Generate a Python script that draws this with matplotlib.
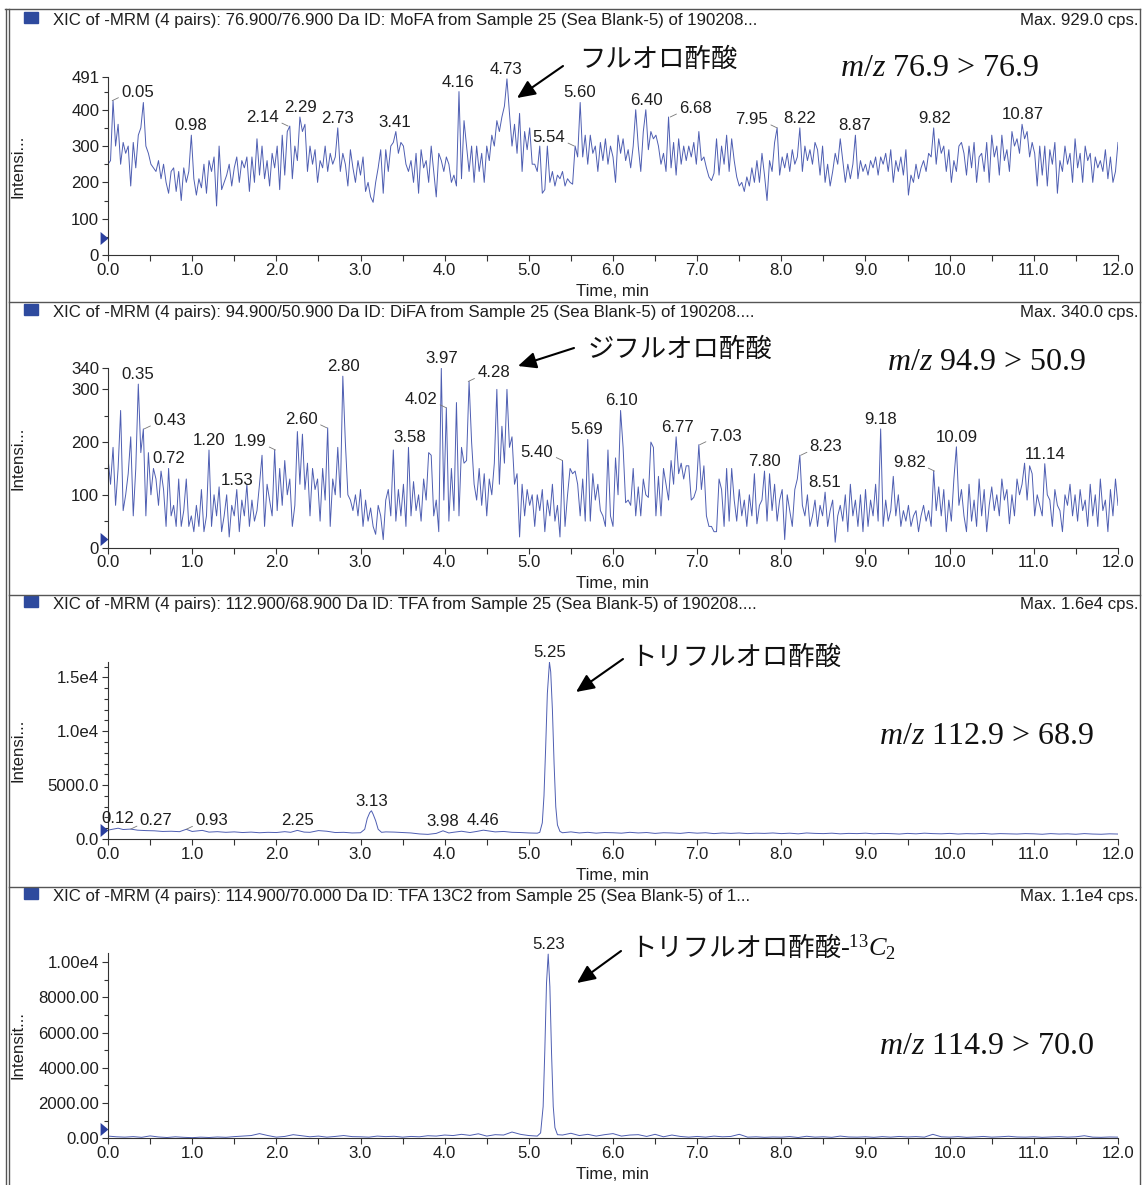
import numpy as np
import matplotlib
matplotlib.use("Agg")
import matplotlib.pyplot as plt
import matplotlib.transforms as mtransforms
from matplotlib.lines import Line2D
from matplotlib.patches import Rectangle, FancyArrowPatch
from matplotlib.ticker import MultipleLocator

# ---------------- data ----------------
# MoFA trace (m/z 76.9 > 76.9), sampled every 0.03 min from 0 to 12 min
mofa_intensity = [
    250, 260, 425, 300, 360, 250, 310, 280, 300, 190,
    310, 240, 330, 350, 420, 300, 280, 250, 240, 230,
    260, 210, 250, 200, 170, 230, 240, 175, 230, 150,
    240, 200, 230, 330, 210, 165, 210, 185, 250, 170,
    260, 230, 270, 135, 300, 180, 200, 220, 250, 190,
    240, 270, 200, 260, 240, 270, 175, 270, 200, 320,
    220, 300, 210, 260, 190, 280, 240, 300, 180, 330,
    220, 340, 355, 210, 300, 260, 380, 340, 360, 230,
    300, 250, 290, 200, 260, 240, 300, 230, 280, 250,
    270, 350, 230, 280, 250, 190, 290, 240, 200, 260,
    220, 270, 175, 200, 160, 145, 200, 240, 290, 170,
    290, 230, 300, 310, 340, 280, 310, 300, 250, 230,
    260, 200, 280, 170, 290, 240, 260, 200, 300, 230,
    160, 280, 260, 230, 270, 250, 200, 220, 190, 450,
    210, 370, 300, 230, 300, 200, 300, 230, 280, 200,
    300, 260, 330, 300, 370, 340, 380, 410, 485, 390,
    300, 360, 280, 390, 230, 340, 290, 350, 250, 250,
    230, 300, 170, 180, 300, 200, 230, 190, 220, 210,
    230, 190, 210, 200, 195, 300, 270, 420, 270, 330,
    250, 330, 280, 300, 230, 310, 260, 320, 250, 300,
    270, 200, 330, 280, 320, 260, 290, 240, 300, 400,
    300, 230, 340, 400, 290, 340, 320, 330, 300, 250,
    280, 230, 380, 240, 310, 220, 320, 250, 300, 260,
    300, 270, 310, 250, 340, 260, 270, 240, 215, 205,
    225, 320, 220, 300, 250, 330, 230, 320, 260, 215,
    190, 200, 175, 215, 190, 240, 200, 260, 200, 280,
    220, 150, 260, 230, 310, 350, 220, 270, 240, 280,
    230, 290, 250, 270, 350, 230, 300, 260, 290, 250,
    310, 290, 220, 300, 200, 250, 190, 230, 280, 250,
    320, 260, 200, 250, 210, 250, 330, 210, 260, 230,
    250, 220, 260, 240, 270, 220, 270, 250, 280, 230,
    290, 200, 260, 230, 270, 220, 290, 165, 220, 200,
    250, 210, 240, 260, 230, 280, 270, 350, 250, 320,
    280, 300, 230, 290, 200, 260, 230, 300, 310, 280,
    220, 300, 240, 310, 200, 270, 280, 230, 310, 200,
    330, 270, 300, 220, 330, 260, 290, 230, 340, 300,
    320, 280, 360, 320, 340, 270, 310, 280, 190, 300,
    220, 300, 190, 290, 250, 310, 170, 260, 230, 300,
    250, 280, 200, 320, 240, 280, 200, 300, 260, 280,
    200, 270, 240, 260, 230, 290, 210, 270, 200, 230,
    310,
]

# DiFA trace (m/z 94.9 > 50.9), sampled every 0.03 min
difa_intensity = [
    170, 120, 190, 80, 150, 260, 70, 100, 140, 210,
    60, 150, 310, 180, 225, 60, 180, 100, 150, 130,
    80, 145, 110, 40, 150, 60, 80, 40, 130, 40,
    70, 130, 40, 60, 30, 80, 40, 110, 30, 60,
    185, 40, 100, 60, 115, 30, 60, 100, 20, 80,
    60, 110, 30, 90, 60, 120, 40, 90, 50, 70,
    120, 175, 40, 120, 90, 60, 185, 70, 150, 80,
    165, 100, 130, 40, 80, 220, 120, 215, 110, 160,
    60, 150, 110, 130, 50, 150, 90, 227, 40, 130,
    100, 190, 95, 325, 200, 100, 90, 70, 100, 60,
    110, 40, 90, 50, 75, 40, 25, 80, 60, 15,
    90, 110, 60, 185, 50, 110, 60, 120, 40, 190,
    60, 125, 70, 100, 50, 130, 90, 180, 175, 60,
    90, 30, 340, 90, 265, 50, 150, 70, 275, 60,
    190, 160, 165, 315, 200, 120, 90, 150, 80, 140,
    60, 130, 100, 160, 300, 120, 230, 160, 300, 190,
    210, 120, 140, 20, 120, 60, 110, 80, 100, 40,
    100, 70, 110, 30, 90, 60, 120, 50, 80, 20,
    165, 40, 100, 150, 140, 145, 120, 60, 130, 50,
    205, 50, 140, 90, 120, 70, 60, 40, 185, 60,
    40, 170, 100, 260, 190, 85, 90, 80, 150, 60,
    115, 60, 130, 100, 95, 200, 190, 60, 135, 60,
    150, 120, 90, 165, 120, 210, 140, 160, 130, 155,
    155, 90, 95, 110, 195, 110, 155, 60, 40, 40,
    30, 30, 130, 110, 40, 150, 50, 150, 90, 50,
    110, 60, 90, 40, 100, 60, 140, 45, 80, 90,
    145, 50, 140, 70, 120, 50, 90, 110, 15, 100,
    70, 40, 110, 130, 175, 80, 60, 100, 40, 60,
    90, 40, 80, 60, 105, 40, 70, 90, 10, 60,
    80, 50, 100, 30, 120, 60, 90, 40, 100, 30,
    110, 40, 90, 60, 120, 50, 225, 40, 90, 50,
    70, 135, 60, 100, 40, 70, 50, 80, 40, 60,
    70, 30, 60, 80, 50, 70, 40, 145, 70, 115,
    60, 110, 30, 90, 50, 130, 191, 80, 110, 60,
    30, 120, 50, 90, 40, 130, 60, 110, 30, 80,
    115, 70, 100, 60, 130, 90, 110, 45, 100, 60,
    130, 100, 120, 160, 90, 155, 140, 60, 100, 80,
    60, 159, 100, 90, 40, 110, 80, 70, 30, 100,
    80, 120, 60, 100, 50, 110, 70, 90, 40, 120,
    60, 100, 40, 130, 70, 90, 30, 110, 60, 130,
    80,
]

# TFA trace (m/z 112.9 > 68.9)
tfa_time = [
    0.0, 0.05, 0.12, 0.18, 0.27, 0.35, 0.45, 0.55, 0.65, 0.75,
    0.85, 0.93, 1.0, 1.12, 1.2, 1.3, 1.4, 1.5, 1.6, 1.7,
    1.8, 1.9, 2.0, 2.1, 2.17, 2.25, 2.33, 2.4, 2.5, 2.6,
    2.7, 2.8, 2.9, 3.0, 3.05, 3.08, 3.11, 3.13, 3.15, 3.18,
    3.21, 3.25, 3.3, 3.4, 3.5, 3.6, 3.7, 3.8, 3.9, 3.98,
    4.05, 4.1, 4.2, 4.3, 4.38, 4.46, 4.55, 4.6, 4.7, 4.8,
    4.9, 5.0, 5.1, 5.13, 5.16, 5.18, 5.2, 5.22, 5.245, 5.26,
    5.28, 5.3, 5.32, 5.34, 5.37, 5.4, 5.5, 5.6, 5.7, 5.8,
    5.9, 6.0, 6.1, 6.2, 6.3, 6.4, 6.5, 6.6, 6.7, 6.8,
    6.9, 7.0, 7.1, 7.2, 7.3, 7.4, 7.5, 7.6, 7.7, 7.8,
    7.9, 8.0, 8.1, 8.2, 8.3, 8.4, 8.5, 8.6, 8.7, 8.8,
    8.9, 9.0, 9.1, 9.2, 9.3, 9.4, 9.5, 9.6, 9.7, 9.8,
    9.9, 10.0, 10.1, 10.2, 10.3, 10.4, 10.5, 10.6, 10.7, 10.8,
    10.9, 11.0, 11.1, 11.2, 11.3, 11.4, 11.5, 11.6, 11.7, 11.8,
    11.9, 12.0,
]
tfa_intensity = [
    820, 900, 1000, 880, 920, 820, 780, 760, 700, 720,
    680, 900, 700, 800, 640, 680, 620, 660, 600, 640,
    580, 620, 600, 680, 620, 800, 640, 620, 780, 720,
    600, 620, 560, 580, 900, 1900, 2450, 2620, 2300, 1700,
    900, 620, 660, 640, 600, 560, 470, 430, 520, 760,
    560, 620, 720, 600, 700, 820, 720, 660, 700, 620,
    600, 560, 540, 620, 1500, 4000, 8500, 13500, 16400, 15500,
    12000, 7000, 3000, 1300, 700, 580, 660, 560, 620, 540,
    600, 580, 540, 620, 560, 600, 520, 580, 560, 520,
    600, 540, 580, 500, 560, 520, 560, 500, 540, 520,
    560, 500, 540, 480, 560, 520, 500, 540, 480, 520,
    500, 540, 480, 520, 500, 460, 520, 480, 540, 500,
    480, 520, 460, 500, 480, 520, 460, 500, 480, 460,
    500, 480, 440, 500, 460, 480, 440, 500, 460, 440,
    480, 460,
]

# TFA 13C2 trace (m/z 114.9 > 70.0)
tfa13_time = [
    0.0, 0.1, 0.2, 0.3, 0.4, 0.5, 0.6, 0.7, 0.8, 0.9,
    1.0, 1.1, 1.2, 1.3, 1.4, 1.5, 1.6, 1.7, 1.8, 1.9,
    2.0, 2.1, 2.2, 2.3, 2.4, 2.5, 2.6, 2.7, 2.8, 2.9,
    3.0, 3.1, 3.2, 3.3, 3.4, 3.5, 3.6, 3.7, 3.8, 3.9,
    4.0, 4.1, 4.2, 4.3, 4.4, 4.5, 4.6, 4.7, 4.8, 4.9,
    5.0, 5.1, 5.14, 5.17, 5.19, 5.21, 5.23, 5.25, 5.27, 5.29,
    5.31, 5.34, 5.4, 5.5, 5.6, 5.7, 5.8, 5.9,
    6.0, 6.1, 6.2, 6.3, 6.4, 6.5, 6.6, 6.7, 6.8, 6.9,
    7.0, 7.1, 7.2, 7.3, 7.4, 7.5, 7.6, 7.7, 7.8, 7.9,
    8.0, 8.1, 8.2, 8.3, 8.4, 8.5, 8.6, 8.7, 8.8, 8.9,
    9.0, 9.1, 9.2, 9.3, 9.4, 9.5, 9.6, 9.7, 9.8, 9.9,
    10.0, 10.1, 10.2, 10.3, 10.4, 10.5, 10.6, 10.7, 10.8, 10.9,
    11.0, 11.1, 11.2, 11.3, 11.4, 11.5, 11.6, 11.7, 11.8, 11.9,
    12.0,
]
tfa13_intensity = [
    120, 80, 60, 90, 50, 130, 70, 40, 80, 50,
    30, 60, 40, 70, 50, 90, 120, 150, 260, 150,
    60, 100, 200, 140, 80, 120, 60, 100, 150, 90,
    80, 60, 120, 90, 110, 60, 100, 80, 140, 120,
    180, 150, 220, 160, 250, 120, 200, 180, 350, 220,
    150, 120, 300, 1800, 5000, 8800, 10450, 8600, 4800, 1800,
    600, 200, 180, 280, 150, 220, 120, 200,
    260, 120, 180, 200, 100, 220, 80, 180, 100, 60,
    100, 60, 120, 80, 100, 220, 60, 80, 50, 70,
    60, 90, 40, 110, 60, 80, 50, 120, 70, 60,
    80, 50, 90, 60, 100, 70, 90, 60, 220, 80,
    60, 90, 50, 70, 100, 60, 80, 110, 70, 60,
    80, 50, 70, 90, 60, 80, 140, 60, 50, 70,
    60,
]

# peak labels: retention time and apex height
mofa_peak_rt = [0.05, 0.98, 2.14, 2.29, 2.73, 3.41, 4.16, 4.73, 5.54, 5.60,
                6.40, 6.68, 7.95, 8.22, 8.87, 9.82, 10.87]
mofa_peak_h = [425, 330, 355, 380, 350, 340, 450, 485, 300, 420,
               400, 380, 350, 350, 330, 350, 360]
difa_peak_rt = [0.35, 0.43, 0.72, 1.20, 1.53, 1.99, 2.60, 2.80, 3.58, 3.97,
                4.02, 4.28, 5.40, 5.69, 6.10, 6.77, 7.03, 7.80, 8.23, 8.51,
                9.18, 9.82, 10.09, 11.14]
difa_peak_h = [310, 225, 150, 185, 110, 185, 227, 325, 190, 340,
               265, 315, 165, 205, 260, 210, 195, 145, 175, 105,
               225, 145, 191, 159]
tfa_peak_rt = [0.12, 0.27, 0.93, 2.25, 3.13, 3.98, 4.46, 5.25]
tfa_peak_h = [1000, 920, 900, 800, 2620, 760, 820, 16400]
tfa13_peak_rt = [5.23]
tfa13_peak_h = [10450]

# threshold markers (blue triangles on the y axis)
marker_level = [46, 16, 830, 495]

header_texts = [
    "XIC of -MRM (4 pairs): 76.900/76.900 Da ID: MoFA from Sample 25 (Sea Blank-5) of 190208...",
    "XIC of -MRM (4 pairs): 94.900/50.900 Da ID: DiFA from Sample 25 (Sea Blank-5) of 190208....",
    "XIC of -MRM (4 pairs): 112.900/68.900 Da ID: TFA from Sample 25 (Sea Blank-5) of 190208....",
    "XIC of -MRM (4 pairs): 114.900/70.000 Da ID: TFA 13C2 from Sample 25 (Sea Blank-5) of 1...",
]
max_texts = ["Max. 929.0 cps.", "Max. 340.0 cps.", "Max. 1.6e4 cps.", "Max. 1.1e4 cps."]
compound_names = ["フルオロ酢酸", "ジフルオロ酢酸", "トリフルオロ酢酸", "トリフルオロ酢酸"]
mz_texts = [r"$\mathit{m/z}$ 76.9 > 76.9", r"$\mathit{m/z}$ 94.9 > 50.9",
            r"$\mathit{m/z}$ 112.9 > 68.9", r"$\mathit{m/z}$ 114.9 > 70.0"]
ylabels = ["Intensi...", "Intensi...", "Intensi...", "Intensit..."]
ytick_values = [
    [0, 100, 200, 300, 400, 491],
    [0, 100, 200, 300, 340],
    [0, 5000, 10000, 15000],
    [0, 2000, 4000, 6000, 8000, 10000],
]
ytick_labels = [
    ["0", "100", "200", "300", "400", "491"],
    ["0", "100", "200", "300", "340"],
    ["0.0", "5000.0", "1.0e4", "1.5e4"],
    ["0.00", "2000.00", "4000.00", "6000.00", "8000.00", "1.00e4"],
]
y_top = [491, 340, 16450, 10530]
y_minor = [50, 50, 1000, 1000]
xtick_values = list(range(0, 13))
xtick_labels = ["0.0", "1.0", "2.0", "3.0", "4.0", "5.0", "6.0", "7.0", "8.0",
                "9.0", "10.0", "11.0", "12.0"]

# ---------------- style ----------------
plt.rcParams["font.family"] = ["Liberation Sans", "DejaVu Sans"]
plt.rcParams["mathtext.fontset"] = "custom"
plt.rcParams["mathtext.rm"] = "Liberation Serif"
plt.rcParams["mathtext.it"] = "Liberation Serif:italic"

W, H = 1143, 1185
TRACE = "#4e5eb2"
AXC = "#333333"
TXT = "#1e1e1e"
FS = 12.1


def fx(px):
    return px / W


def fy(py):
    return 1 - py / H


fig = plt.figure(figsize=(W / 100, H / 100), dpi=100)

# label side: 'c' centred above, 'r' text to the right with leader, 'l' text to the left
label_side = {
    0: {"0.05": "r", "2.14": "l", "5.54": "l", "6.68": "r", "7.95": "l"},
    1: {"0.43": "r", "1.99": "l", "2.60": "l", "4.02": "l", "4.28": "r",
        "5.40": "l", "7.03": "r", "8.23": "r", "9.82": "l"},
    2: {"0.27": "r", "0.93": "r"},
    3: {},
}

# axes geometry in pixels: (top, bottom)
axes_px = [(76.7, 255.0), (368.3, 547.5), (661.7, 839.0), (952.7, 1138.2)]
header_y = [20.5, 313.0, 605.0, 897.0]
name_pos = [(579, 59), (588, 349), (630, 657), (630, 948)]
mz_pos = [(840, 68), (887, 362), (879, 737), (879, 1046)]
arrows = [((563, 66), (517, 98)), ((574, 348), (518, 366)),
          ((623, 659), (576, 692)), ((621, 951), (577, 983))]

series = [
    (np.linspace(0, 12, len(mofa_intensity)), mofa_intensity, mofa_peak_rt, mofa_peak_h),
    (np.linspace(0, 12, len(difa_intensity)), difa_intensity, difa_peak_rt, difa_peak_h),
    (tfa_time, tfa_intensity, tfa_peak_rt, tfa_peak_h),
    (tfa13_time, tfa13_intensity, tfa13_peak_rt, tfa13_peak_h),
]

AX_L, AX_R = 108, 1118
for i, (t, y, prt, ph) in enumerate(series):
    top, bot = axes_px[i]
    ax = fig.add_axes([fx(AX_L), fy(bot), (AX_R - AX_L) / W, (bot - top) / H])
    ax.patch.set_alpha(0)
    ax.plot(t, y, color=TRACE, lw=0.7)
    ax.set_xlim(0, 12)
    ax.set_ylim(0, y_top[i])
    for s in ("top", "right"):
        ax.spines[s].set_visible(False)
    for s in ("left", "bottom"):
        ax.spines[s].set_color(AXC)
        ax.spines[s].set_linewidth(0.8)
    ax.set_xticks(xtick_values)
    ax.set_xticklabels(xtick_labels)
    ax.xaxis.set_minor_locator(MultipleLocator(0.5))
    ax.set_yticks(ytick_values[i])
    ax.set_yticklabels(ytick_labels[i])
    ax.yaxis.set_minor_locator(MultipleLocator(y_minor[i]))
    ax.tick_params(axis="x", which="both", direction="out", length=4, width=0.8,
                   color=AXC, labelsize=FS, labelcolor=TXT, pad=1.5)
    ax.tick_params(axis="y", which="major", direction="out", length=4.3, width=0.8,
                   color=AXC, labelsize=FS, labelcolor=TXT, pad=2)
    ax.tick_params(axis="y", which="minor", direction="out", length=2.8, width=0.8,
                   color=AXC)
    ax.set_ylabel(ylabels[i], fontsize=FS, color=TXT)
    ax.yaxis.set_label_coords((18 - AX_L) / (AX_R - AX_L), 0.5)
    ax.yaxis.label.set_va("center")
    ax.set_xlabel("Time, min", fontsize=FS, color=TXT)
    ax.xaxis.set_label_coords(0.5, -36.0 / (bot - top))
    ax.xaxis.label.set_va("center")

    # threshold triangle
    trans = mtransforms.blended_transform_factory(ax.transAxes, ax.transData)
    ax.plot([-0.004], [marker_level[i]], marker=[(-0.6, -1), (-0.6, 1), (0.6, 0)],
            ms=9.4, mew=0, color="#2b3f9e", transform=trans, clip_on=False)

    # peak labels
    for rt, h in zip(prt, ph):
        lab = f"{rt:.2f}"
        side = label_side[i].get(lab, "c")
        if side == "c":
            ax.annotate(lab, xy=(rt, h), xytext=(0, 2), textcoords="offset pixels",
                        ha="center", va="bottom", fontsize=FS, color=TXT,
                        annotation_clip=False)
        else:
            dx = 9 if side == "r" else -9
            ax.annotate(lab, xy=(rt, h), xytext=(dx, 1), textcoords="offset pixels",
                        ha="left" if side == "r" else "right", va="bottom",
                        fontsize=FS, color=TXT, annotation_clip=False,
                        arrowprops=dict(arrowstyle="-", color="#777777", lw=0.6,
                                        shrinkA=0, shrinkB=0,
                                        relpos=(0, 0.22) if side == "r" else (1, 0.22)))

    # header
    hy = header_y[i]
    fig.patches.append(Rectangle((fx(24), fy(hy + 2)), 14 / W, 11 / H,
                                 transform=fig.transFigure, color="#2e4a9e"))
    fig.text(fx(53), fy(hy), header_texts[i], ha="left", va="center",
             fontsize=FS, color=TXT)
    fig.text(fx(1138), fy(hy), max_texts[i], ha="right", va="center",
             fontsize=FS, color=TXT)

    # compound annotation
    nx, ny = name_pos[i]
    fig.text(fx(nx), fy(ny), compound_names[i], ha="left", va="center",
             fontsize=19, family=["Noto Sans CJK JP", "DejaVu Sans"], color="#111111")
    if i == 3:
        fig.text(fx(840), fy(ny), r"-$^{13}C_2$", ha="left", va="center",
                 fontsize=19, family="Liberation Serif", color="#111111")
    mx, my = mz_pos[i]
    fig.text(fx(mx), fy(my), mz_texts[i], ha="left", va="center", fontsize=23,
             family="Liberation Serif", color="#111111")

    (ax0, ay0), (ax1, ay1) = arrows[i]
    fig.add_artist(FancyArrowPatch((fx(ax0), fy(ay0)), (fx(ax1), fy(ay1)),
                                   transform=fig.transFigure,
                                   arrowstyle="-|>,head_length=0.55,head_width=0.25",
                                   mutation_scale=20, lw=1.5, color="black",
                                   shrinkA=0, shrinkB=0))

# panel frames
FR = "#555555"
frame_lines = [
    ([5, 1140], [9, 9]),
    ([5.5, 5.5], [9, 1185]),
    ([8.5, 8.5], [9, 1185]),
    ([1139.5, 1139.5], [9, 1185]),
    ([8.5, 1140], [302, 302]),
    ([8.5, 1140], [595, 595]),
    ([8.5, 1140], [887, 887]),
]
for xs, ys in frame_lines:
    fig.add_artist(Line2D([fx(v) for v in xs], [fy(v) for v in ys],
                          transform=fig.transFigure, color=FR, lw=1.0))

fig.savefig("out.png", dpi=100, facecolor="white")
